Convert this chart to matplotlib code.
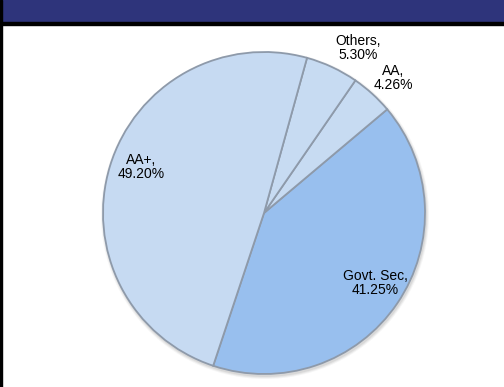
import matplotlib
matplotlib.use('Agg')
import matplotlib.pyplot as plt
from matplotlib.patches import Rectangle

# slices, drawn counter-clockwise starting at the bottom
labels = ['Govt. Sec', 'AA', 'Others', 'AA+']
shares = [41.25, 4.26, 5.30, 49.20]
colours = ['#98BFEE', '#C7DBF2', '#C7DBF2', '#C6DAF2']
# where each label sits (pixel coords from top-left)
label_xy = [(375, 283), (393, 78), (358, 48), (141, 167)]

W, H = 504, 387
plt.rcParams['font.family'] = ['Liberation Sans', 'DejaVu Sans']

fig = plt.figure(figsize=(W / 100, H / 100), dpi=100)
ax = fig.add_axes([0, 0, 1, 1])
ax.set_xlim(0, W)
ax.set_ylim(0, H)
ax.set_aspect('equal')
ax.axis('off')

# title banner and frame
ax.add_patch(Rectangle((0, H - 22), W, 22, color='#2E347B', zorder=1))
ax.add_patch(Rectangle((0, H - 24.5), W, 2.5, color='black', zorder=1))
ax.add_patch(Rectangle((0, 0), 1.5, H, color='black', zorder=1))

cx, cy, r = 264, H - 213, 161

# soft shadow under the pie
for i, a in enumerate([0.05, 0.07, 0.09]):
    ax.pie([1], colors=['#404040'], radius=r + 3 - i, center=(cx + 1, cy - 2),
           wedgeprops=dict(alpha=a, linewidth=0), frame=True)

wedges, _ = ax.pie(shares, colors=colours, startangle=-108.4,
                   counterclock=True, radius=r, center=(cx, cy), frame=True,
                   wedgeprops=dict(edgecolor='#8E9AAA', linewidth=1.3))

ax.set_xlim(0, W)
ax.set_ylim(0, H)
ax.axis('off')

for name, val, (x, y) in zip(labels, shares, label_xy):
    ax.text(x, H - y, '{0},\n{1:.2f}%'.format(name, val), ha='center',
            va='center', fontsize=10, linespacing=1.05, color='black')

plt.savefig('out.png', dpi=100, facecolor='white')
plt.close(fig)
